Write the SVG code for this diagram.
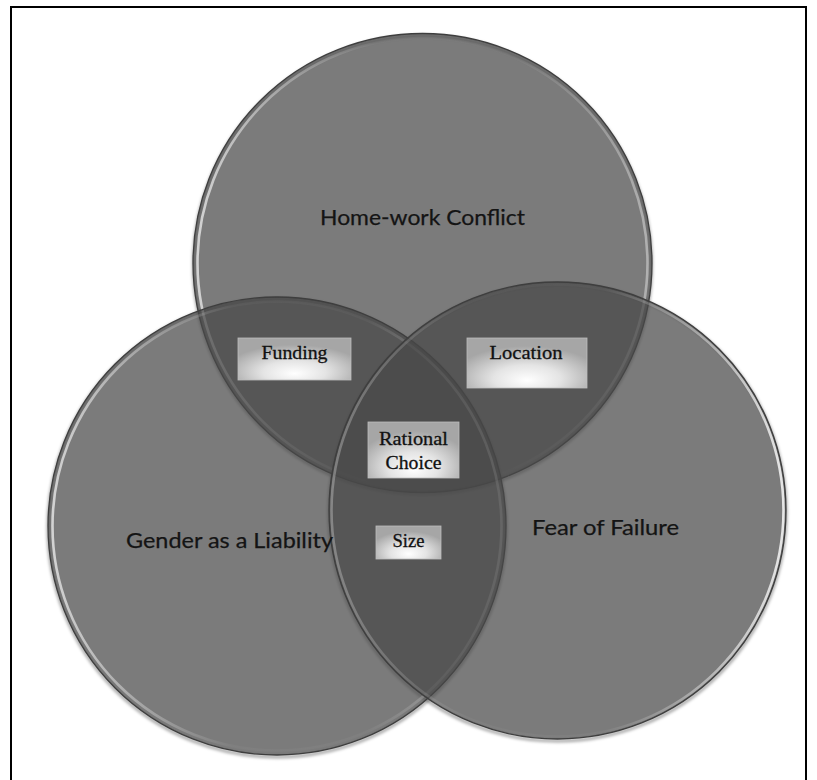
<svg xmlns="http://www.w3.org/2000/svg" width="817" height="780" viewBox="0 0 817 780">
  <style>
    .set { fill: #484848; fill-opacity: 0.72; }
    .rim { fill: none; stroke: #3e3e3e; stroke-width: 1.3; }
    .glow { fill: none; stroke-width: 2.6; }
    .shade { fill: none; stroke: #000; stroke-opacity: 0.35; stroke-width: 3; }
    .setlabel { font-family: Lato, "Open Sans", "Liberation Sans", sans-serif; font-size: 22px; fill: #141414; stroke: #141414; stroke-width: 0.25; }
    .tag { stroke: #bdbdbd; stroke-width: 0.8; }
    .tagtext { font-family: "Liberation Serif", "Times New Roman", serif; font-size: 18.5px; fill: #111; stroke: #111; stroke-width: 0.3; text-anchor: middle; }
  </style>
  <defs>
    <filter id="soft" x="-10%" y="-10%" width="120%" height="120%">
      <feGaussianBlur stdDeviation="1.6"/>
    </filter>
    <linearGradient id="glowLeft" x1="0" y1="0" x2="1" y2="0">
      <stop offset="0" stop-color="#e2e2e2" stop-opacity="0.85"/>
      <stop offset="0.4" stop-color="#cfcfcf" stop-opacity="0.05"/>
      <stop offset="0.7" stop-color="#cfcfcf" stop-opacity="0.05"/>
      <stop offset="1" stop-color="#e6e6e6" stop-opacity="0.5"/>
    </linearGradient>
    <linearGradient id="glowRight" x1="0" y1="0" x2="1" y2="0">
      <stop offset="0" stop-color="#cfcfcf" stop-opacity="0.4"/>
      <stop offset="0.3" stop-color="#cfcfcf" stop-opacity="0.05"/>
      <stop offset="0.6" stop-color="#cfcfcf" stop-opacity="0.05"/>
      <stop offset="1" stop-color="#f2f2f2" stop-opacity="0.9"/>
    </linearGradient>
    <radialGradient id="tagFill" cx="0.5" cy="0.78" r="0.62" fx="0.5" fy="0.85">
      <stop offset="0" stop-color="#ffffff"/>
      <stop offset="0.45" stop-color="#e4e4e4"/>
      <stop offset="1" stop-color="#a6a6a6"/>
    </radialGradient>
  </defs>

  <rect width="817" height="780" fill="#ffffff"/>
  <!-- page frame -->
  <rect x="11" y="7" width="795" height="790" fill="none" stroke="#000" stroke-width="2"/>

  <!-- soft shadows under the three sets -->
  <g id="shadows" filter="url(#soft)">
    <circle class="shade" cx="422.5" cy="265" r="229"/>
    <circle class="shade" cx="277" cy="528" r="229"/>
    <circle class="shade" cx="557.5" cy="512.5" r="228.5"/>
  </g>

  <!-- sets -->
  <g id="set-homework">
    <circle class="set" cx="422.5" cy="263" r="229.5"/>
    <circle class="glow" cx="422.5" cy="263" r="225" stroke="url(#glowLeft)"/>
    <circle class="rim" cx="422.5" cy="263" r="229.5"/>
  </g>
  <g id="set-gender">
    <circle class="set" cx="277" cy="526" r="229"/>
    <circle class="glow" cx="277" cy="526" r="224.5" stroke="url(#glowLeft)"/>
    <circle class="rim" cx="277" cy="526" r="229"/>
  </g>
  <g id="set-fear">
    <circle class="set" cx="557.5" cy="510.5" r="228.5"/>
    <circle class="glow" cx="557.5" cy="510.5" r="226" stroke="url(#glowRight)"/>
    <circle class="rim" cx="557.5" cy="510.5" r="228.5"/>
  </g>

  <!-- set names -->
  <g id="labels">
    <text class="setlabel" x="320" y="225" textLength="205" lengthAdjust="spacingAndGlyphs">Home-work Conflict</text>
    <text class="setlabel" x="126" y="548" textLength="207" lengthAdjust="spacingAndGlyphs">Gender as a Liability</text>
    <text class="setlabel" x="532" y="535" textLength="147" lengthAdjust="spacingAndGlyphs">Fear of Failure</text>
  </g>

  <!-- overlap tags -->
  <g id="tag-funding">
    <rect class="tag" x="238" y="338" width="113" height="42" fill="url(#tagFill)"/>
    <text class="tagtext" x="294.5" y="359" textLength="66" lengthAdjust="spacingAndGlyphs">Funding</text>
  </g>
  <g id="tag-location">
    <rect class="tag" x="467" y="338" width="120" height="50" fill="url(#tagFill)"/>
    <text class="tagtext" x="526" y="359" textLength="73" lengthAdjust="spacingAndGlyphs">Location</text>
  </g>
  <g id="tag-rational">
    <rect class="tag" x="368" y="422" width="91" height="56" fill="url(#tagFill)"/>
    <text class="tagtext" x="413.5" y="445" textLength="69" lengthAdjust="spacingAndGlyphs">Rational</text>
    <text class="tagtext" x="413.5" y="469" textLength="56" lengthAdjust="spacingAndGlyphs">Choice</text>
  </g>
  <g id="tag-size">
    <rect class="tag" x="376" y="526" width="65" height="33" fill="url(#tagFill)"/>
    <text class="tagtext" x="408.5" y="547" textLength="32" lengthAdjust="spacingAndGlyphs">Size</text>
  </g>
</svg>
